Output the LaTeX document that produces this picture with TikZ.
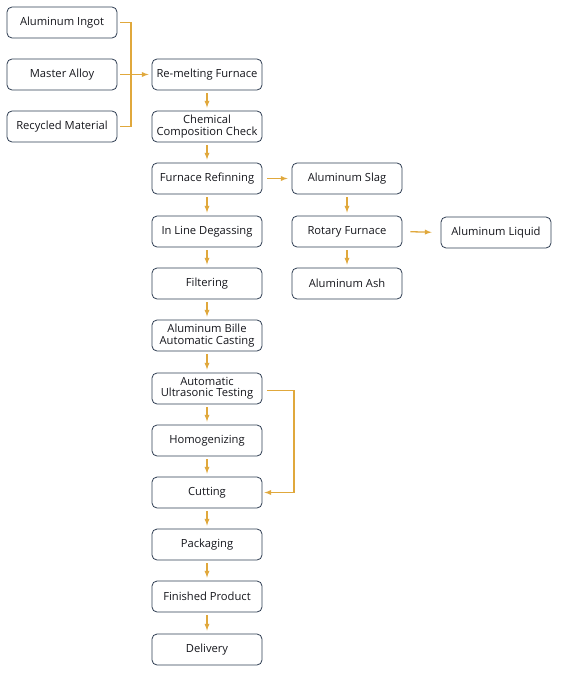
\documentclass[tikz,border=0pt]{standalone}
\usepackage{fontspec}
\setmainfont{Open Sans}
\definecolor{flowgold}{HTML}{E0A83C}
\definecolor{boxline}{HTML}{2E3D52}
\definecolor{boxtext}{HTML}{15161C}
\tikzset{
  stepbox/.style={draw=boxline,line width=0.8pt,rounded corners=5pt,minimum width=110pt,minimum height=31pt,inner sep=0pt,align=center,text=boxtext,font=\fontsize{11.2}{11.2}\selectfont},
  flow/.style={draw=flowgold,line width=1.3pt,-latex,shorten <=3pt,shorten >=3pt},
  link/.style={draw=flowgold,line width=1.4pt}
}
\begin{document}
\begin{tikzpicture}[x=1pt,y=-1pt]
    \useasboundingbox (0,0) rectangle (563,674);
    % raw materials
    \node[stepbox] (ingot) at (62,22.5) {Aluminum Ingot};
    \node[stepbox] (alloy) at (62,74.5) {Master Alloy};
    \node[stepbox] (recycled) at (62,126.5) {Recycled Material};
    % main line
    \node[stepbox] (remelt) at (207,74.5) {Re-melting Furnace};
    \node[stepbox] (chem) at (207,126.5) {Chemical\\Composition Check};
    \node[stepbox] (refine) at (207,178.5) {Furnace Refinning};
    \node[stepbox] (degas) at (207,231.5) {In Line Degassing};
    \node[stepbox] (filter) at (207,283.5) {Filtering};
    \node[stepbox] (casting) at (207,335.5) {Aluminum Bille\\Automatic Casting};
    \node[stepbox] (ultra) at (207,388.5) {Automatic\\Ultrasonic Testing};
    \node[stepbox] (homog) at (207,440.5) {Homogenizing};
    \node[stepbox] (cut) at (207,492.5) {Cutting};
    \node[stepbox] (pack) at (207,544.5) {Packaging};
    \node[stepbox] (finished) at (207,596.5) {Finished Product};
    \node[stepbox] (deliver) at (207,649.5) {Delivery};
    % slag line
    \node[stepbox] (slag) at (347,178.5) {Aluminum Slag};
    \node[stepbox] (rotary) at (347,231.5) {Rotary Furnace};
    \node[stepbox] (ash) at (347,283.5) {Aluminum Ash};
    \node[stepbox] (liquid) at (496,232.5) {Aluminum Liquid};
    % bracket into the furnace
    \coordinate (barx) at (131,0);
    \draw[link] ([xshift=3pt]ingot.east) -- (ingot.east -| barx) -- (recycled.east -| barx) -- ([xshift=3pt]recycled.east);
    \draw[flow] (alloy.east) -- (remelt.west);
    % main flow
    \foreach \a/\b in {remelt/chem,chem/refine,refine/degas,degas/filter,filter/casting,casting/ultra,ultra/homog,homog/cut,cut/pack,pack/finished,finished/deliver,slag/rotary,rotary/ash}
      \draw[flow] (\a.south) -- (\b.north);
    \draw[flow,shorten <=5pt,shorten >=4pt] (refine.east) -- (slag.west);
    \draw[flow,shorten <=8pt,shorten >=9pt] (rotary.east) -- (liquid.west);
    % testing skips to cutting
    \coordinate (skipx) at (294,0);
    \draw[flow,shorten <=5pt,shorten >=0pt] ([yshift=-2pt]ultra.east) -- ([yshift=-2pt]ultra.east -| skipx) -- (cut.east -| skipx) -- ([xshift=2pt]cut.east);
\end{tikzpicture}
\end{document}
